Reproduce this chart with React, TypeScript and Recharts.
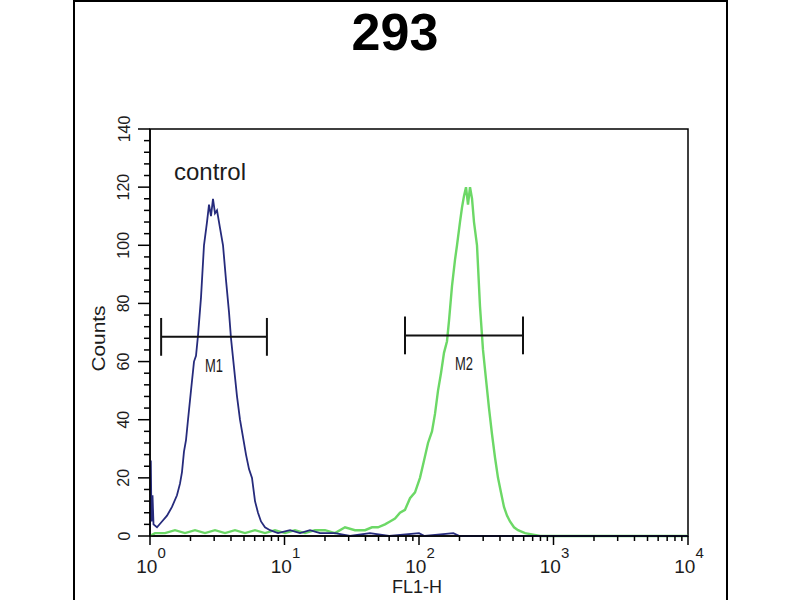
import {
  Line,
  LineChart,
  ReferenceArea,
  ReferenceDot,
  ReferenceLine,
  XAxis,
  YAxis,
} from 'recharts'

// FL1-H channel (log scale) and counts
const controlFl1 = [
  1.0, 1.014, 1.026, 1.044, 1.062, 1.127, 1.228, 1.338, 1.457, 1.587, 1.671, 1.729, 1.789,
  1.852, 1.917, 2.017, 2.124, 2.198, 2.275, 2.394, 2.52, 2.653, 2.746, 2.841, 2.94, 3.043,
  3.149, 3.314, 3.49, 3.674, 3.867, 4.002, 4.212, 4.435, 4.668, 4.914, 5.173, 5.446, 5.733,
  6.035, 6.353, 6.688, 7.161, 7.803, 8.948, 10.99, 13.04, 15.47, 18.36, 23.74, 30.69, 43.22,
  60, 100, 110, 180, 200, 10000,
]
const controlCounts = [
  3, 26, 5, 14, 4, 3, 5, 7, 10, 14, 18, 22, 29, 33, 40, 50, 60, 62, 69, 82, 100, 108, 114,
  110, 116, 111, 112, 106, 100, 88, 77, 68, 58, 48, 40, 34, 28, 23, 20, 12, 8, 5, 3, 2, 1, 2,
  1, 2, 1, 1, 0, 1, 0, 1, 0, 1, 0, 0,
]

const sampleFl1 = [
  1.0, 1.089, 1.293, 1.534, 1.82, 2.161, 2.564, 3.043, 3.611, 4.285, 5.085, 6.035, 7.161,
  8.498, 10.09, 11.97, 14.21, 16.86, 20.01, 23.74, 28.18, 33.44, 39.68, 44.73, 49.58, 55.87,
  60.86, 66.31, 72.24, 78.7, 85.74, 93.39, 101.7, 109.0, 116.7, 124.9, 131.5, 138.5, 145.7,
  153.4, 161.5, 167.1, 176.0, 185.2, 191.7, 201.7, 208.8, 216.1, 223.6, 231.4, 239.5, 247.9,
  256.4, 269.9, 284.1, 299.1, 314.8, 331.4, 349.0, 367.3, 386.7, 407.0, 428.5, 451.1, 474.9,
  508.6, 544.6, 614.0, 793.6, 10000,
]
const sampleCounts = [
  0, 1, 1, 2, 1, 2, 1, 2, 1, 2, 1, 2, 1, 2, 1, 2, 1, 2, 2, 1, 3, 2, 2, 3, 3, 4, 5, 6, 8, 9,
  13, 15, 20, 26, 32, 36, 42, 50, 56, 63, 67, 74, 86, 95, 100, 108, 113, 117, 120, 114, 120,
  116, 108, 100, 79, 64, 54, 44, 35, 27, 20, 15, 10, 7, 5, 3, 2, 1, 0, 0,
]

// marker gates M1 / M2
const markerNames = ['M1', 'M2']
const markerFrom = [1.21, 78.7]
const markerTo = [7.4, 593]
const markerLevel = [68.5, 69]

const decades = [1, 10, 100, 1000, 10000]
const minorSteps = [2, 3, 4, 5, 6, 7, 8, 9]
const yMajorTicks = [0, 20, 40, 60, 80, 100, 120, 140]
const yMinorStep = 4

const xTicks = decades.flatMap((d, i) =>
  i < decades.length - 1 ? [d, ...minorSteps.map((m) => m * d)] : [d],
)
const yTicks = Array.from({ length: 140 / yMinorStep + 1 }, (_, i) => i * yMinorStep)

const controlData = controlFl1.map((x, i) => ({ x, count: controlCounts[i] }))
const sampleData = sampleFl1.map((x, i) => ({ x, count: sampleCounts[i] }))

const FONT = '"Liberation Sans", Arial, sans-serif'
const INK = '#1c1c1c'

function XTick(props: any) {
  const { x, y, payload } = props
  const v = payload.value as number
  const exp = Math.round(Math.log10(v))
  const major = decades.includes(v)
  return (
    <g>
      <line x1={x} x2={x} y1={y} y2={y + (major ? 9 : 5)} stroke="#000" strokeWidth={1.5} />
      {major && (
        <text
          x={x + 1}
          y={y + 37}
          textAnchor="middle"
          fontFamily={FONT}
          fontSize={19}
          fill={INK}
        >
          10
          <tspan dy={-15} fontSize={15}>
            {exp}
          </tspan>
        </text>
      )}
    </g>
  )
}

function YTick(props: any) {
  const { x, y, payload } = props
  const v = payload.value as number
  const major = yMajorTicks.includes(v)
  return (
    <g>
      <line x1={x - (major ? 12 : 6)} x2={x} y1={y} y2={y} stroke="#000" strokeWidth={1.5} />
      {major && (
        <text
          x={x - 26}
          y={y}
          transform={`rotate(-90, ${x - 26}, ${y})`}
          textAnchor="middle"
          dominantBaseline="central"
          fontFamily={FONT}
          fontSize={16}
          fill={INK}
        >
          {v}
        </text>
      )}
    </g>
  )
}

export default function App() {
  return (
    <div style={{ position: 'absolute', left: 0, top: 0, width: 800, height: 600, background: '#fff' }}>
      <LineChart
        width={800}
        height={600}
        margin={{ top: 129, right: 112, bottom: 14, left: 100 }}
      >
        <XAxis
          dataKey="x"
          type="number"
          scale="log"
          domain={[1, 10000]}
          allowDataOverflow
          ticks={xTicks}
          interval={0}
          height={50}
          tickSize={0}
          tickMargin={0}
          tickLine={false}
          axisLine={{ stroke: '#000', strokeWidth: 1.5 }}
          tick={<XTick />}
          label={{
            content: ({ viewBox }: any) => (
              <text
                x={viewBox.x + viewBox.width / 2 - 2}
                y={viewBox.y + 57}
                textAnchor="middle"
                fontFamily={FONT}
                fontSize={18}
                fill={INK}
              >
                FL1-H
              </text>
            ),
          }}
        />
        <YAxis
          type="number"
          domain={[0, 140]}
          ticks={yTicks}
          interval={0}
          width={50}
          tickSize={0}
          tickMargin={0}
          tickLine={false}
          axisLine={{ stroke: '#000', strokeWidth: 1.5 }}
          tick={<YTick />}
          label={{
            content: ({ viewBox }: any) => {
              const cx = viewBox.x - 1
              const cy = viewBox.y + viewBox.height / 2 + 6
              return (
                <text
                  x={cx}
                  y={cy}
                  transform={`rotate(-90, ${cx}, ${cy})`}
                  textAnchor="middle"
                  dominantBaseline="central"
                  fontFamily={FONT}
                  fontSize={18}
                  textLength={66}
                  lengthAdjust="spacingAndGlyphs"
                  fill={INK}
                >
                  Counts
                </text>
              )
            },
          }}
        />
        <ReferenceArea
          x1={1}
          x2={10000}
          y1={0}
          y2={140}
          fill="none"
          stroke="#000"
          strokeWidth={1.5}
          ifOverflow="visible"
        />
        <Line
          data={sampleData}
          dataKey="count"
          type="linear"
          stroke="#6cd866"
          strokeWidth={2.4}
          dot={false}
          isAnimationActive={false}
        />
        <Line
          data={controlData}
          dataKey="count"
          type="linear"
          stroke="#262b7c"
          strokeWidth={1.8}
          dot={false}
          isAnimationActive={false}
        />
        {markerNames.map((name, i) => (
          <ReferenceLine
            key={`${name}-bar`}
            segment={[
              { x: markerFrom[i], y: markerLevel[i] },
              { x: markerTo[i], y: markerLevel[i] },
            ]}
            stroke="#111"
            strokeWidth={2}
          />
        ))}
        {markerNames.map((name, i) => (
          <ReferenceLine
            key={`${name}-left`}
            segment={[
              { x: markerFrom[i], y: markerLevel[i] - 6.5 },
              { x: markerFrom[i], y: markerLevel[i] + 6.5 },
            ]}
            stroke="#111"
            strokeWidth={2}
          />
        ))}
        {markerNames.map((name, i) => (
          <ReferenceLine
            key={`${name}-right`}
            segment={[
              { x: markerTo[i], y: markerLevel[i] - 6.5 },
              { x: markerTo[i], y: markerLevel[i] + 6.5 },
            ]}
            stroke="#111"
            strokeWidth={2}
          />
        ))}
        {markerNames.map((name, i) => (
          <ReferenceDot
            key={`${name}-label`}
            x={Math.sqrt(markerFrom[i] * markerTo[i])}
            y={markerLevel[i]}
            r={0}
            fill="none"
            stroke="none"
            label={{
              content: ({ viewBox }: any) => (
                <text
                  x={viewBox.x + (viewBox.width || 0) / 2}
                  y={viewBox.y + (viewBox.height || 0) / 2 + 35}
                  textAnchor="middle"
                  fontFamily={FONT}
                  fontSize={19}
                  textLength={18}
                  lengthAdjust="spacingAndGlyphs"
                  fill={INK}
                >
                  {name}
                </text>
              ),
            }}
          />
        ))}
      </LineChart>
      <svg
        width={800}
        height={600}
        style={{ position: 'absolute', left: 0, top: 0, pointerEvents: 'none' }}
      >
        <rect x={74} y={1} width={653} height={640} fill="none" stroke="#000" strokeWidth={2} />
        <text
          x={395}
          y={50}
          textAnchor="middle"
          fontFamily={FONT}
          fontWeight="bold"
          fontSize={52}
          fill="#000"
        >
          293
        </text>
        <text x={174} y={180} fontFamily={FONT} fontSize={24} fill={INK}>
          control
        </text>
      </svg>
    </div>
  )
}
